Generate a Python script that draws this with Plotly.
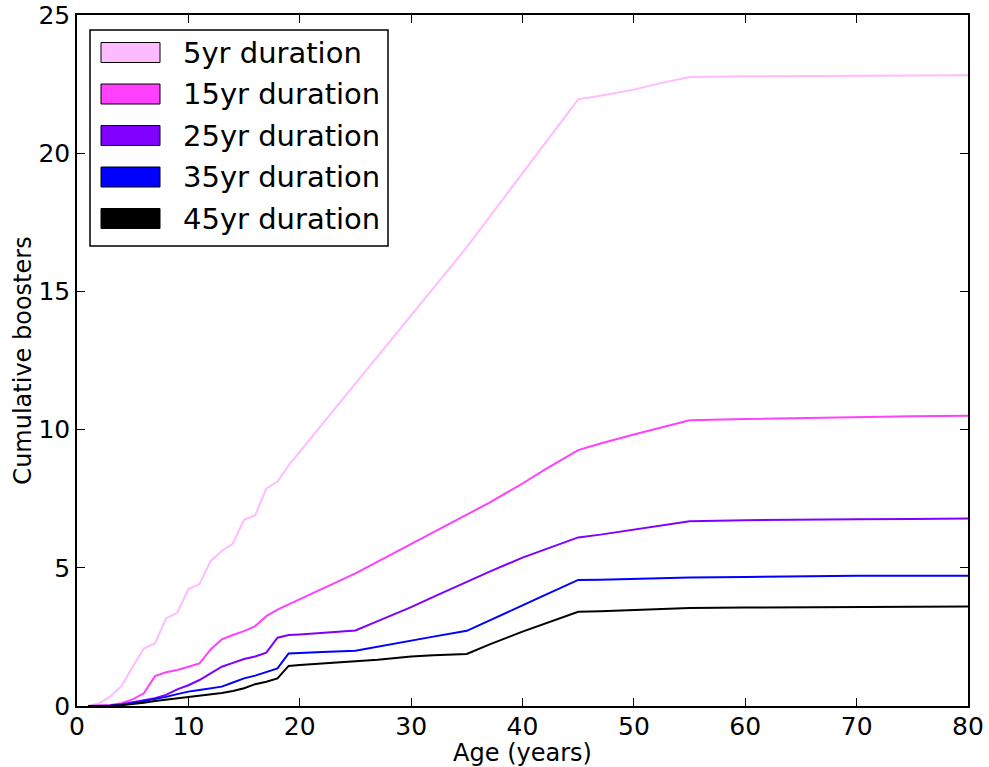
import plotly.graph_objects as go

ages = list(range(1, 21)) + [22, 25, 27, 30, 32, 35, 37, 40, 42, 45, 47, 50, 52, 55, 60, 65, 70, 75, 80]

dur5 = [0, 0.1, 0.35, 0.72, 1.42, 2.08, 2.26, 3.17, 3.37, 4.23, 4.41, 5.24, 5.61, 5.88, 6.74, 6.90, 7.87, 8.11, 8.71, 9.2,
        10.2, 11.67, 12.65, 14.13, 15.12, 16.6, 17.67, 19.28, 20.35, 21.95, 22.08, 22.3, 22.5, 22.76, 22.78, 22.79, 22.80, 22.81, 22.82]
dur15 = [0, 0.01, 0.04, 0.1, 0.24, 0.46, 1.08, 1.22, 1.30, 1.42, 1.54, 2.05, 2.41, 2.57, 2.71, 2.89, 3.25, 3.49, 3.68, 3.87,
         4.24, 4.8, 5.22, 5.86, 6.28, 6.92, 7.35, 8.05, 8.55, 9.26, 9.5, 9.82, 10.02, 10.34, 10.38, 10.42, 10.45, 10.48, 10.5]
dur25 = [0, 0.0, 0.02, 0.06, 0.13, 0.2, 0.28, 0.4, 0.6, 0.75, 0.94, 1.18, 1.42, 1.56, 1.70, 1.79, 1.93, 2.47, 2.57, 2.59,
         2.65, 2.73, 3.07, 3.58, 3.95, 4.5, 4.85, 5.37, 5.66, 6.1, 6.2, 6.38, 6.5, 6.68, 6.72, 6.75, 6.76, 6.77, 6.78]
dur35 = [0, 0, 0.01, 0.03, 0.1, 0.18, 0.25, 0.33, 0.43, 0.52, 0.58, 0.64, 0.70, 0.85, 1.0, 1.10, 1.24, 1.36, 1.90, 1.91,
         1.95, 2.0, 2.15, 2.37, 2.51, 2.72, 3.1, 3.64, 4.01, 4.56, 4.57, 4.6, 4.62, 4.65, 4.67, 4.7, 4.71, 4.71, 4.71]
dur45 = [0, 0, 0.01, 0.03, 0.07, 0.12, 0.18, 0.23, 0.28, 0.33, 0.37, 0.41, 0.47, 0.54, 0.64, 0.79, 0.88, 1.0, 1.45, 1.48,
         1.53, 1.6, 1.67, 1.79, 1.84, 1.88, 2.22, 2.69, 2.98, 3.41, 3.43, 3.48, 3.51, 3.55, 3.56, 3.57, 3.58, 3.59, 3.6]

series_names = ["5yr duration", "15yr duration", "25yr duration", "35yr duration", "45yr duration"]
series_values = [dur5, dur15, dur25, dur35, dur45]
series_colors = ["#ffbbff", "#ff40ff", "#7f00ff", "#0000ff", "#000000"]

x_ticks = [0, 10, 20, 30, 40, 50, 60, 70, 80]
y_ticks = [0, 5, 10, 15, 20, 25]

FONT = "DejaVu Sans"
W, H = 989, 767
ML, MR, MT, MB = 77, 21, 15, 61
PW, PH = W - ML - MR, H - MT - MB

def pxx(p):
    return (p - ML) / PW

def pxy(p):
    return (H - MB - p) / PH

fig = go.Figure()
for name, vals, col in zip(series_names, series_values, series_colors):
    fig.add_trace(go.Scatter(x=ages, y=vals, mode="lines", name=name,
                             line=dict(color=col, width=2), showlegend=False))

# legend drawn as patches + text (matplotlib style)
shapes = [dict(type="rect", xref="paper", yref="paper",
               x0=pxx(90), x1=pxx(388), y0=pxy(246), y1=pxy(30),
               line=dict(color="black", width=1.5), fillcolor="white", layer="above")]
annotations = []
for i, (name, col) in enumerate(zip(series_names, series_colors)):
    cy = 52.5 + 41.5 * i
    shapes.append(dict(type="rect", xref="paper", yref="paper",
                       x0=pxx(101), x1=pxx(160), y0=pxy(cy + 10), y1=pxy(cy - 10),
                       line=dict(color="black", width=1), fillcolor=col, layer="above"))
    annotations.append(dict(xref="paper", yref="paper", x=pxx(181), y=pxy(cy),
                            xanchor="left", yanchor="middle", text=name, showarrow=False,
                            font=dict(family=FONT, size=29, color="black")))

axis_common = dict(showgrid=False, zeroline=False, showline=True, linecolor="black",
                   linewidth=1.5, mirror="ticks", ticks="inside", ticklen=8,
                   tickcolor="black", tickwidth=1,
                   tickfont=dict(family=FONT, size=25, color="black"))

fig.update_layout(
    width=W, height=H,
    margin=dict(l=ML, r=MR, t=MT, b=MB, autoexpand=False),
    paper_bgcolor="white", plot_bgcolor="white",
    shapes=shapes, annotations=annotations,
    xaxis=dict(range=[0, 80], tickvals=x_ticks, ticktext=[str(v) for v in x_ticks],
               ticklabelstandoff=-3,
               title=dict(text="Age (years)", font=dict(family=FONT, size=24, color="black"), standoff=4),
               **axis_common),
    yaxis=dict(range=[0, 25], tickvals=y_ticks, ticktext=[str(v) for v in y_ticks],
               title=dict(text="Cumulative boosters", font=dict(family=FONT, size=24, color="black"), standoff=0),
               **axis_common),
    showlegend=False,
)

fig.write_html("out.html", config={"displayModeBar": False},
               post_script="document.body.style.margin='0';document.body.style.overflow='hidden';")
